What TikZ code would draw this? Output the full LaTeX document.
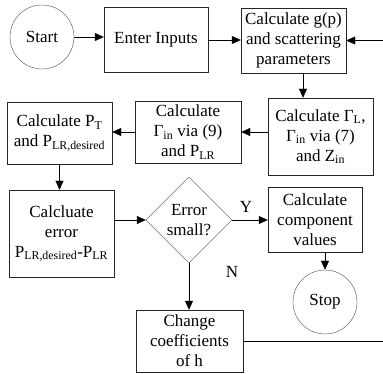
\documentclass[tikz,border=0pt]{standalone}
\usepackage{fontspec}
\setmainfont{Liberation Serif}
\usetikzlibrary{shapes.geometric, arrows.meta}

\tikzset{
  txt/.style={font=\fontsize{17}{20}\selectfont},
  box/.style={txt, draw=black!85, rectangle, inner sep=1pt, align=center},
  term/.style={txt, draw=black!70, circle, inner sep=0pt, minimum size=64pt},
  arr/.style={-{Triangle[length=9pt, width=8pt]}, thin}
}

\begin{document}
\begin{tikzpicture}[x=1pt, y=-1pt]
\useasboundingbox (0,0) rectangle (383,374);

\node[term] (start) at (42,37)
  {Start};
\node[box, minimum width=104pt, minimum height=65pt] (inputs) at (156,40)
  {Enter Inputs};
\node[box, minimum width=105pt, minimum height=65pt] (gp) at (293.5,40.5)
  {Calculate g(p)\\and scattering\\parameters};
\node[box, minimum width=105pt, minimum height=77pt] (gammal) at (320.5,136.5)
  {Calculate Γ\textsubscript{L},\\Γ\textsubscript{in} via (7)\\and Z\textsubscript{in}};
\node[box, minimum width=106pt, minimum height=62pt] (gammain) at (188,132)
  {Calculate\\Γ\textsubscript{in} via (9)\\and P\textsubscript{LR}};
\node[box, minimum width=105pt, minimum height=62pt] (pt) at (59.5,133)
  {Calculate P\textsubscript{T}\\and P\textsubscript{LR,desired}};
\node[box, minimum width=105pt, minimum height=87pt] (err) at (61.5,233.5)
  {Calcluate\\error\\P\textsubscript{LR,desired}-P\textsubscript{LR}};
\node[txt, draw=black!70, diamond, inner sep=0pt, minimum width=86pt, minimum height=86pt, align=center] (dec) at (189,220)
  {Error\\small?};
\node[box, minimum width=94pt, minimum height=65pt] (comp) at (315,219.5)
  {Calculate\\component\\values};
\node[term] (stop) at (325,302)
  {Stop};
\node[box, minimum width=107pt, minimum height=62pt] (chg) at (189.5,341)
  {Change\\coefficients\\of h};
\node[txt] (nlab) at (232,272) {N};

\coordinate (edge) at (383.6,0);
\coordinate (down) at (303,0);

\draw[arr] (start.east) -- (start.east -| inputs.west);
\draw[arr] (inputs.east) -- (inputs.east -| gp.west);
\draw[arr] (gp.south -| down) -- (gammal.north -| down);
\draw[arr] (gammal.west |- gammain.east) -- (gammain.east);
\draw[arr] (gammain.west) -- (pt.east |- gammain.west);
\draw[arr] (pt.south) -- (err.north -| pt.south);
\draw[arr] (err.east |- dec.west) -- (dec.west);
\draw[arr] (dec.east) -- node[txt, midway, above=4pt, xshift=-4pt] {Y} (comp.west |- dec.east);
\draw[arr] (comp.south -| stop.north) -- (stop.north);
\draw[arr] (dec.south) -- (chg.north -| dec.south);
\draw[arr] (chg.east) -- (chg.east -| edge) |- (gp.east);

\end{tikzpicture}
\end{document}
